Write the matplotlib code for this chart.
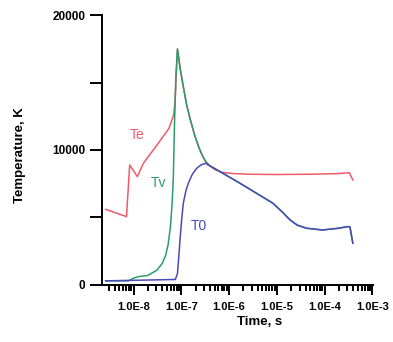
import numpy as np
import matplotlib.pyplot as plt
from matplotlib.ticker import FixedLocator, FuncFormatter, LogLocator, NullFormatter

plt.rcParams['font.family'] = ['Liberation Sans', 'DejaVu Sans']

# electron temperature
t_e = [2.6e-9, 7.1e-9, 8.3e-9, 1.2e-8, 1.6e-8, 3.1e-8, 5.5e-8, 6.9e-8, 7.4e-8,
       7.8e-8, 8.3e-8, 9.5e-8, 1.1e-7, 1.3e-7, 1.55e-7, 1.9e-7, 2.3e-7, 2.7e-7,
       3.2e-7, 4.0e-7, 5.0e-7, 7.0e-7, 1.2e-6, 3e-6, 1e-5, 5e-5, 2e-4, 3.3e-4,
       3.9e-4]
Te = [5600, 5060, 8890, 8020, 9010, 10370, 11600, 12590, 13600,
      15500, 17450, 16000, 14690, 13300, 12220, 11100, 10240, 9650,
      9160, 8800, 8550, 8350, 8250, 8200, 8180, 8200, 8250, 8320,
      7780]

# vibrational temperature
t_v = [2.6e-9, 7.9e-9, 1.0e-8, 1.3e-8, 2e-8, 3.1e-8, 4e-8, 4.7e-8, 5.3e-8,
       5.9e-8, 6.4e-8, 6.8e-8, 7.2e-8, 7.7e-8, 8.3e-8, 9.5e-8, 1.1e-7, 1.3e-7,
       1.55e-7, 1.9e-7, 2.3e-7, 2.7e-7, 3.2e-7, 3.7e-7, 1.7e-6, 8.3e-6, 1.3e-5,
       1.9e-5, 2.7e-5, 4.2e-5, 9e-5, 2e-4, 3e-4, 3.4e-4, 3.9e-4]
Tv = [300, 300, 500, 620, 700, 1100, 1600, 2200, 3000,
      4300, 6000, 8000, 12000, 15500, 17500, 16000, 14690, 13300,
      12220, 11100, 10240, 9650, 9160, 8890, 7530, 6050, 5400,
      4810, 4420, 4200, 4070, 4200, 4320, 4300, 3090]

# gas temperature
t_0 = [2.6e-9, 7.5e-8, 8.3e-8, 8.8e-8, 9.5e-8, 1.02e-7, 1.1e-7, 1.25e-7, 1.4e-7,
       1.7e-7, 2.1e-7, 2.6e-7, 3.2e-7, 3.7e-7, 1.7e-6, 8.3e-6, 1.3e-5, 1.9e-5,
       2.7e-5, 4.2e-5, 9e-5, 2e-4, 3e-4, 3.4e-4, 3.9e-4]
T0 = [300, 400, 850, 2000, 3580, 4900, 6050, 7000, 7530,
      8200, 8640, 8900, 9010, 8890, 7530, 6050, 5400, 4810,
      4420, 4200, 4070, 4200, 4320, 4300, 3090]

xticks = [1e-8, 1e-7, 1e-6, 1e-5, 1e-4, 1e-3]
yticks = [0, 10000, 20000]

fig = plt.figure(figsize=(3.93, 3.42), dpi=100)
ax = fig.add_axes([0.26, 0.167, 0.69, 0.789])

ax.plot(t_e, Te, color='#ee5a6a', lw=1.1)
ax.plot(t_v, Tv, color='#2a9c6a', lw=1.1)
ax.plot(t_0, T0, color='#4a4ab8', lw=1.1)

ax.text(1.2e-8, 11100, 'Te', color='#ee5a6a', fontsize=10, ha='center', va='center')
ax.text(3.3e-8, 7560, 'Tv', color='#2a9c6a', fontsize=10, ha='center', va='center')
ax.text(2.35e-7, 4370, 'T0', color='#4a4ab8', fontsize=10, ha='center', va='center')

ax.set_xscale('log')
ax.set_xlim(2.2e-9, 1.05e-3)
ax.set_ylim(0, 20000)

ax.xaxis.set_major_locator(FixedLocator(xticks))
ax.xaxis.set_major_formatter(FuncFormatter(lambda v, p: '1.0E%d' % round(np.log10(v))))
ax.xaxis.set_minor_locator(LogLocator(base=10, subs=np.arange(2, 10)))
ax.xaxis.set_minor_formatter(NullFormatter())
ax.yaxis.set_major_locator(FixedLocator(yticks))
ax.yaxis.set_minor_locator(FixedLocator([5000, 15000]))

ax.tick_params(which='both', direction='out', width=1.4)
ax.tick_params(axis='x', which='major', length=7, pad=5, labelsize=8)
ax.tick_params(axis='x', which='minor', length=4)
ax.tick_params(axis='y', which='both', length=9, pad=3, labelsize=8.5)
for lab in ax.get_xticklabels() + ax.get_yticklabels():
    lab.set_fontweight('bold')

for s in ['top', 'right']:
    ax.spines[s].set_visible(False)
for s in ['left', 'bottom']:
    ax.spines[s].set_linewidth(1.4)

ax.set_xlabel('Time, s', fontsize=9.5, fontweight='bold')
ax.xaxis.set_label_coords(0.58, -0.115)
ax.set_ylabel('Temperature, K', fontsize=9.5, fontweight='bold')
ax.yaxis.set_label_coords(-0.28, 0.48)

fig.savefig('out.png', dpi=100)
